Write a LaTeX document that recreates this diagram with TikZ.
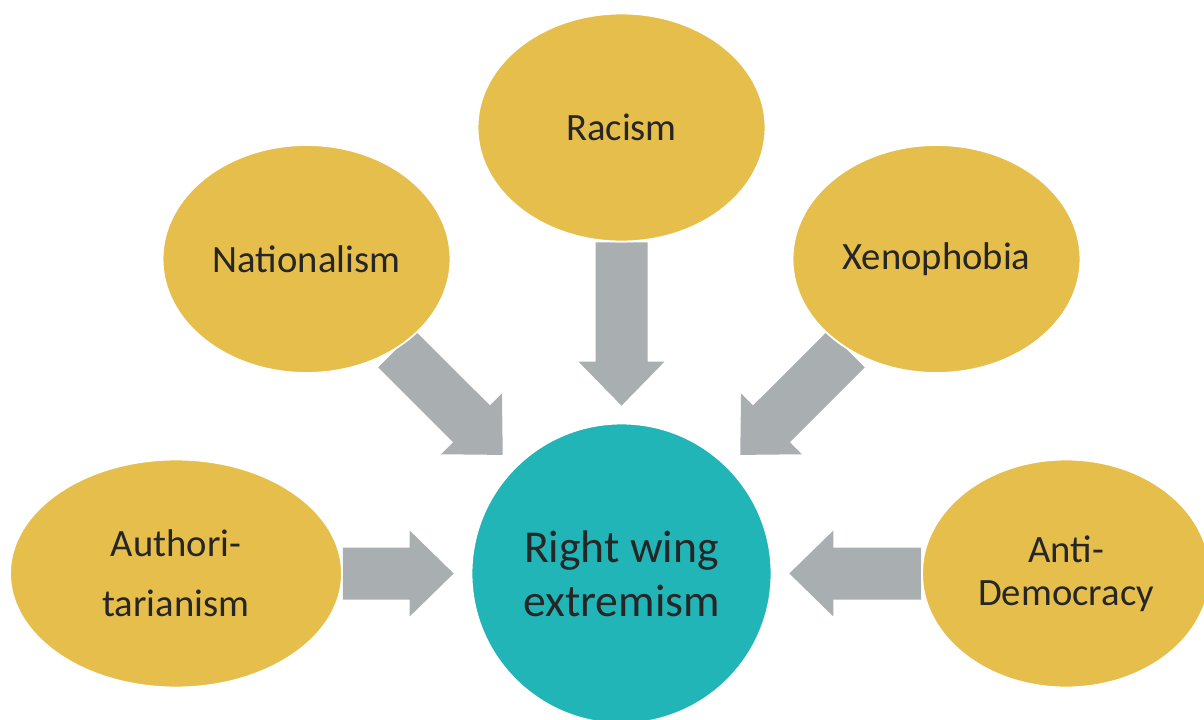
\documentclass[tikz,border=0pt]{standalone}
\usepackage{fontspec}
\setmainfont{Carlito}
\usepackage{xcolor}
\usetikzlibrary{calc,shapes.geometric,backgrounds}

\definecolor{gold}{HTML}{E6BE4C}
\definecolor{teal}{HTML}{21B5B7}
\definecolor{arrowgrey}{HTML}{A9AEB1}
\definecolor{ink}{HTML}{262626}

\begin{document}
\begin{tikzpicture}[x=0.02cm,y=-0.02cm,
    idea/.style={ellipse,fill=gold,draw=white,line width=1pt,inner sep=0pt,
      minimum width=5.76cm,minimum height=4.56cm,align=center,text=ink,
      font=\fontsize{22}{24.5}\selectfont},
    core/.style={circle,fill=teal,draw=white,line width=1pt,inner sep=0pt,
      minimum size=6cm,align=center,text=ink,
      font=\fontsize{26}{30.6}\selectfont}]
		\useasboundingbox (0,0) rectangle (1204,720);
		\clip (0,0) rectangle (1204,720); % Clips the picture...

		\node[core] (rwe) at (621.5,573.5) {Right wing\\extremism};
		\node[idea] (rac) at (621.5,127.5) {Racism};
		\node[idea] (nat) at (306.5,259) {Nationalism};
		\node[idea] (xen) at (936.5,259) {Xenophobia};
		\node[idea,minimum width=6.64cm,font=\fontsize{22}{34}\selectfont]
			(aut) at (176,573.5) {Authori-\\tarianism};
		\node[idea] (ant) at (1066,573.5) {Anti-\\Democracy};

		\begin{scope}[on background layer]
		\foreach \src in {rac,nat,xen,aut,ant}{% One block arrow from each idea
			\path (\src) -- coordinate[pos=0] (s) coordinate[pos=1] (e) (rwe);
			\coordinate (t) at ($(e)!0.34cm!(s)$);% tip stops short of the circle
			\coordinate (hb) at ($(t)!0.88cm!(s)$);% base of the head
			\fill[arrowgrey] ($(s)!0.52cm!90:(t)$) -- ($(hb)!0.52cm!90:(t)$)
				-- ($(hb)!0.86cm!90:(t)$) -- (t) -- ($(hb)!0.86cm!-90:(t)$)
				-- ($(hb)!0.52cm!-90:(t)$) -- ($(s)!0.52cm!-90:(t)$) -- cycle;
		}
		\end{scope}
	  \end{tikzpicture}
\end{document}
